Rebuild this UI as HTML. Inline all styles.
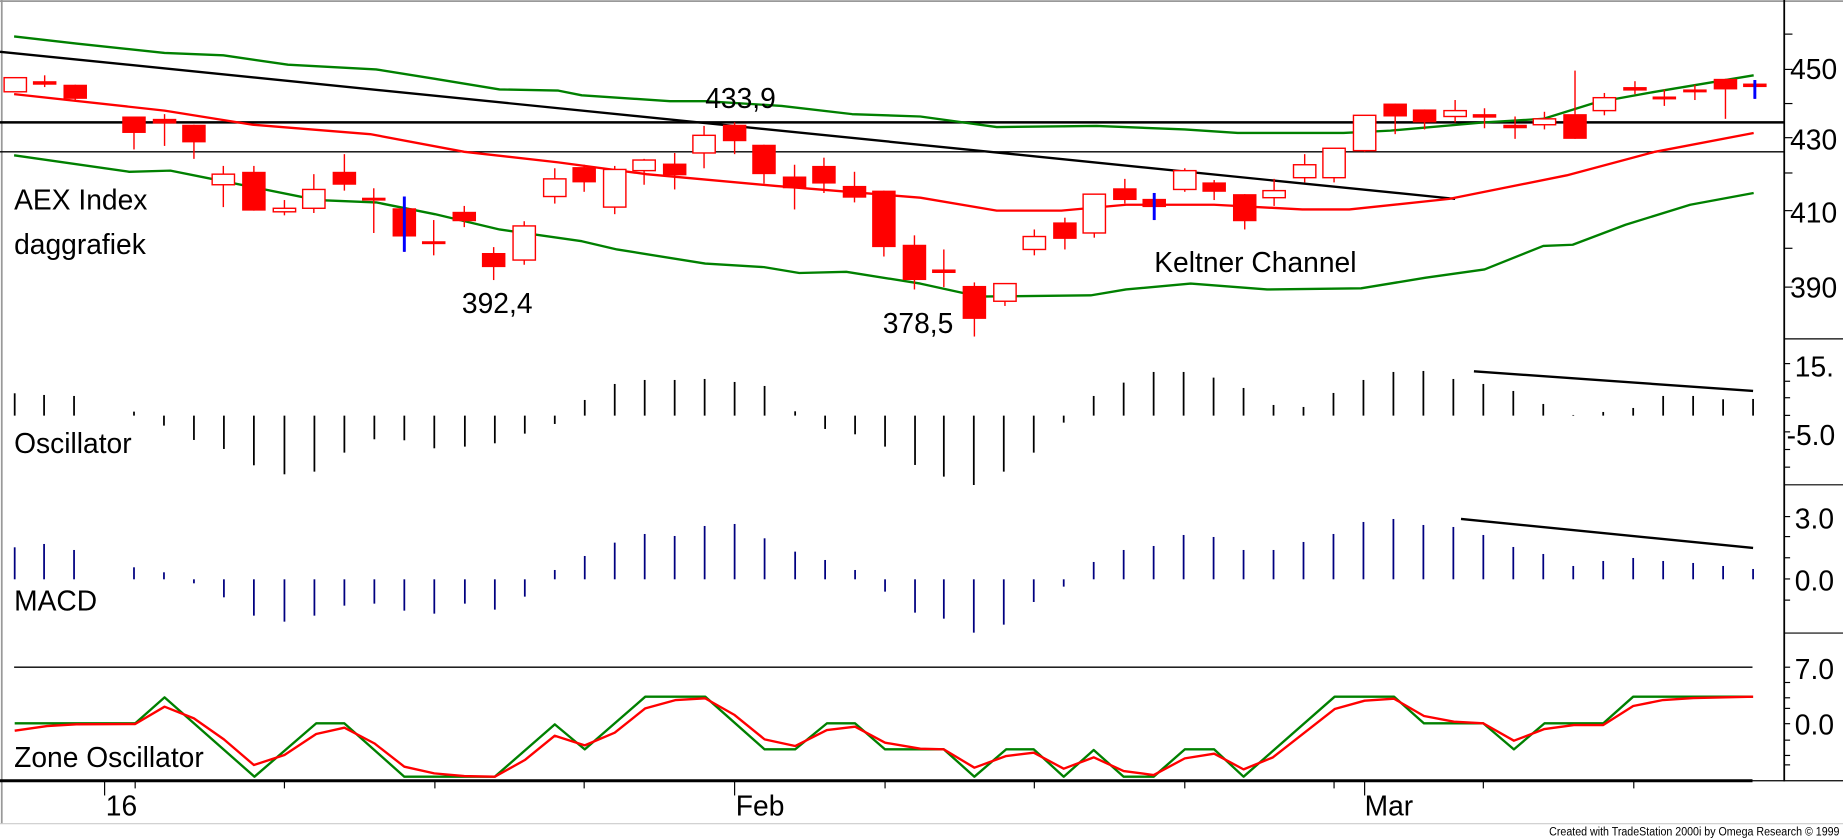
<!DOCTYPE html>
<html><head><meta charset="utf-8"><style>
html,body{margin:0;padding:0;background:#fff;}
svg{display:block;}
text{font-family:"Liberation Sans",Arial,sans-serif;fill:#000;}
</style></head><body>
<svg id="s" width="1843" height="839" viewBox="0 0 1568 713" preserveAspectRatio="none" xmlns="http://www.w3.org/2000/svg">
<rect x="0" y="0" width="1568" height="713" fill="#fff"/>
<line x1="0" y1="1" x2="1568" y2="1" stroke="#999" stroke-width="1.5"/>
<line x1="1.5" y1="0" x2="1.5" y2="700" stroke="#999" stroke-width="1.5"/>
<line x1="0" y1="700" x2="1568" y2="700" stroke="#ccc" stroke-width="1"/>
<g id="g"></g>
<g font-size="24">
<text x="12" y="178">AEX Index</text>
<text x="12" y="216">daggrafiek</text>
<text x="600" y="92">433,9</text>
<text x="393" y="266">392,4</text>
<text x="751" y="283">378,5</text>
<text x="982" y="231">Keltner Channel</text>
<text x="12" y="385">Oscillator</text>
<text x="12" y="519">MACD</text>
<text x="12" y="652">Zone Oscillator</text>
<text x="1523" y="67">450</text>
<text x="1523" y="127">430</text>
<text x="1523" y="189">410</text>
<text x="1523" y="253">390</text>
<text x="1527" y="320">15.</text>
<text x="1520" y="378">-5.0</text>
<text x="1527" y="449">3.0</text>
<text x="1527" y="502">0.0</text>
<text x="1527" y="577">7.0</text>
<text x="1527" y="624">0.0</text>
<text x="90" y="693">16</text>
<text x="626" y="693">Feb</text>
<text x="1161" y="693">Mar</text>
</g>
<text x="1318" y="710" font-size="10" textLength="247" lengthAdjust="spacingAndGlyphs">Created with TradeStation 2000i by Omega Research © 1999</text>
</svg>
<script>
var g=document.getElementById('g'),NS='http://www.w3.org/2000/svg';
function el(n,a){var e=document.createElementNS(NS,n);for(var k in a)e.setAttribute(k,a[k]);g.appendChild(e);return e;}
function ln(x1,y1,x2,y2,c,w){el('line',{x1:x1,y1:y1,x2:x2,y2:y2,stroke:c,'stroke-width':w||1});}
function pl(p,c,w){el('polyline',{points:p.map(function(q){return q[0]+','+q[1]}).join(' '),fill:'none',stroke:c,'stroke-width':w||2,'stroke-linejoin':'round'});}
// axis
ln(1518,0,1518,664,'#000',1.5);
[29,59,88,117,147,179,211,244].forEach(function(y){ln(1518,y,1525,y,'#000',1)});
ln(1518,288,1568,288,'#000',1);ln(1518,412,1568,412,'#000',1);ln(1518,538,1568,538,'#000',1);
[309,324,338,353,367,382,397].forEach(function(y){ln(1518,y,1523,y,'#000',1)});
[439,456,474,492,510].forEach(function(y){ln(1518,y,1523,y,'#000',1)});
[567,580,593,602,615,629,642,650].forEach(function(y){ln(1518,y,1523,y,'#000',1)});
// horizontal lines main
ln(0,104,1518,104,'#000',2.2);ln(0,129,1518,129,'#000',1.2);
// trendline
ln(0,44,1238,169,'#000',2);
// keltner
pl([[12,31],[65,37],[140,45],[190,47],[245,55],[320,59],[370,67],[425,76],[475,77],[495,81],[570,86],[600,86],[665,90],[725,97],[783,99],[848,108],[933,107],[1008,110],[1053,113],[1143,113],[1183,111],[1263,104],[1313,101],[1358,87],[1408,78],[1492,64]],'#008000',2);
pl([[12,80],[140,94],[215,106],[315,114],[395,129],[475,138],[550,148],[660,158],[783,168],[848,179],[903,179],[958,174],[1033,174],[1108,178],[1148,178],[1233,169],[1333,149],[1408,129],[1492,113]],'#ff0000',2);
pl([[12,132],[110,146],[145,145],[175,151],[270,170],[320,172],[370,182],[425,195],[495,205],[525,212],[600,224],[650,227],[680,232],[720,231],[783,241],[833,252],[928,251],[958,246],[1013,241],[1078,246],[1158,245],[1213,236],[1263,229],[1313,209],[1338,208],[1383,191],[1438,174],[1492,164]],'#008000',2);
// candles
var c=[[13,66,78,66,78,0],[38,69,72,64,74,1],[64,72,84,72,86,1],[114,99,113,99,127,1],[140,101,105,97,124,1],[165,106,121,106,135,1],[190,148,157,141,176,0],[216,146,179,141,179,1],[242,177,180,170,183,0],[267,161,177,148,181,0],[293,146,157,131,162,1],[318,168,170,160,198,1],[344,177,201,167,214,1,1],[369,205,207,187,217,1],[395,180,188,175,193,1],[420,215,227,210,238,1],[446,192,221,188,225,0],[472,152,167,143,173,0],[497,142,155,140,163,1],[523,144,176,141,182,0],[548,136,145,135,157,0],[574,139,149,130,161,1],[599,115,130,107,143,0],[625,106,120,104,131,1],[650,123,148,123,156,1],[676,150,160,140,178,1],[701,141,156,134,164,1],[727,158,168,146,172,1],[752,162,210,162,218,1],[778,208,238,200,246,1],[803,229,232,212,244,1],[829,243,271,240,286,1],[855,241,256,241,260,0],[880,201,212,195,217,0],[906,189,203,185,212,1],[931,165,198,165,202,0],[957,160,170,152,173,1],[982,169,176,164,187,1,1],[1008,145,161,143,163,0],[1033,155,163,153,170,1],[1059,165,188,165,195,1],[1084,162,168,152,175,0],[1110,140,151,131,155,0],[1135,126,151,126,155,0],[1161,98,128,98,129,0],[1187,88,99,88,114,1],[1212,93,104,93,110,1],[1238,94,99,85,104,0],[1263,97,100,92,109,1],[1289,106,109,99,118,1],[1314,101,106,95,110,0],[1340,97,118,60,118,1],[1365,83,94,79,98,0],[1391,74,77,69,80,1],[1416,82,84,76,90,1],[1442,76,78,72,85,1],[1468,67,76,67,101,1],[1493,71,74,68,84,1,1]];
c.forEach(function(d){
 ln(d[0],d[3],d[0],d[4],'#ff0000',1.2);
 var h=Math.max(d[2]-d[1],2.5);
 if(d[5])el('rect',{x:d[0]-10,y:d[1],width:20,height:h,fill:'#ff0000'});
 else el('rect',{x:d[0]-9.5,y:d[1],width:19,height:h,fill:'#fff',stroke:'#ff0000','stroke-width':1.2});
 if(d[6])ln(d[0],d[3],d[0],d[4],'#0000ff',2.5);
});
// oscillator & macd
var xs1=[25,75,126,228,279,330,381,432,484,535,586,637,688,739,791,842,893,944,995,1046,1097,1148,1199,1250,1301,1353,1404,1455,1506,1557];
var o1=[190,195,198,245,287,330,357,406,433,425,368,328,331,355,350,340,311,282,210,162,150,150,147,156,168,244,297,313,350,405];
var xs2=[40,91,142,193,244,295,346,397,448,499,550,601,652,703,754,805,856,907,958,1009,1060,1111,1162,1213,1264,1315,1366,1417];
var o2=[440,465,425,368,278,198,158,126,126,143,174,225,231,189,150,126,123,147,162,183,222,255,246,234,198,198,208,207];
var m1=[652,642,660,712,727,760,802,857,875,857,827,821,842,851,821,839,800,720,678,638,612,618,588,582,625,665,690,720,785,848];
var m2=[866,908,884,816,770,696,660,648,615,621,660,660,636,612,576,567,585,591,615,651,672,708,693,684,693,699,708,717];
function Y(z){return 280.4+z*0.2833;}
function bars(xs,vals,off,base,col){xs.forEach(function(x,i){ln(off+x*0.5,Y(base),off+x*0.5,Y(vals[i]),col,1.5);});}
bars(xs1,o1,0,257,'#000');bars(xs2,o2,783,257,'#000');
bars(xs1,m1,0,748,'#000080');bars(xs2,m2,783,748,'#000080');
ln(783+942*0.5,Y(124),783+1417*0.5,Y(183),'#000',2);
ln(783+920*0.5,Y(567),783+1417*0.5,Y(654),'#000',2);
// zone
function Z(z){return 543.9+z*0.2833;}
ln(12,567,1491,567,'#000',1.2);
ln(0,663.5,1491,663.5,'#000',2.5);ln(1491,663.5,1568,663.5,'#000',1);
function zp(a,b){var p=[];a.forEach(function(q){p.push([q[0]*0.5,Z(q[1])])});b.forEach(function(q){p.push([783+q[0]*0.5,Z(q[1])])});return p;}
pl(zp([[25,250],[230,250],[280,172],[433,410],[538,250],[586,250],[688,410],[842,410],[944,253],[995,328],[1098,170],[1200,170],[1301,328],[1353,328],[1407,250],[1455,250],[1506,328],[1566,328]],[[40,328],[92,410],[146,328],[193,328],[244,410],[295,330],[346,410],[397,410],[450,328],[500,328],[550,410],[705,170],[806,170],[857,250],[958,250],[1010,328],[1062,250],[1162,250],[1213,170],[1417,170]]),'#008000',2);
pl(zp([[25,272],[80,258],[130,253],[230,252],[280,200],[330,235],[381,298],[432,375],[484,345],[538,282],[586,263],[637,310],[688,380],[739,400],[790,408],[842,410],[893,360],[944,287],[995,316],[1046,278],[1098,205],[1150,180],[1200,175],[1250,225],[1301,298],[1353,318],[1407,270],[1455,260],[1506,308],[1566,326]],[[40,328],[92,383],[146,348],[193,338],[244,386],[295,352],[346,393],[397,405],[450,355],[500,341],[550,388],[600,352],[705,207],[756,182],[806,176],[857,228],[908,245],[958,250],[1010,302],[1062,267],[1112,255],[1162,255],[1213,198],[1264,180],[1315,174],[1417,170]]),'#ff0000',2);
// x ticks
[115,242,370,497,753,880,1008,1135,1262,1390].forEach(function(x){ln(x,663,x,670,'#000',1)});
[89,625,1161].forEach(function(x){ln(x,663,x,676,'#000',1)});
</script>
</body></html>
